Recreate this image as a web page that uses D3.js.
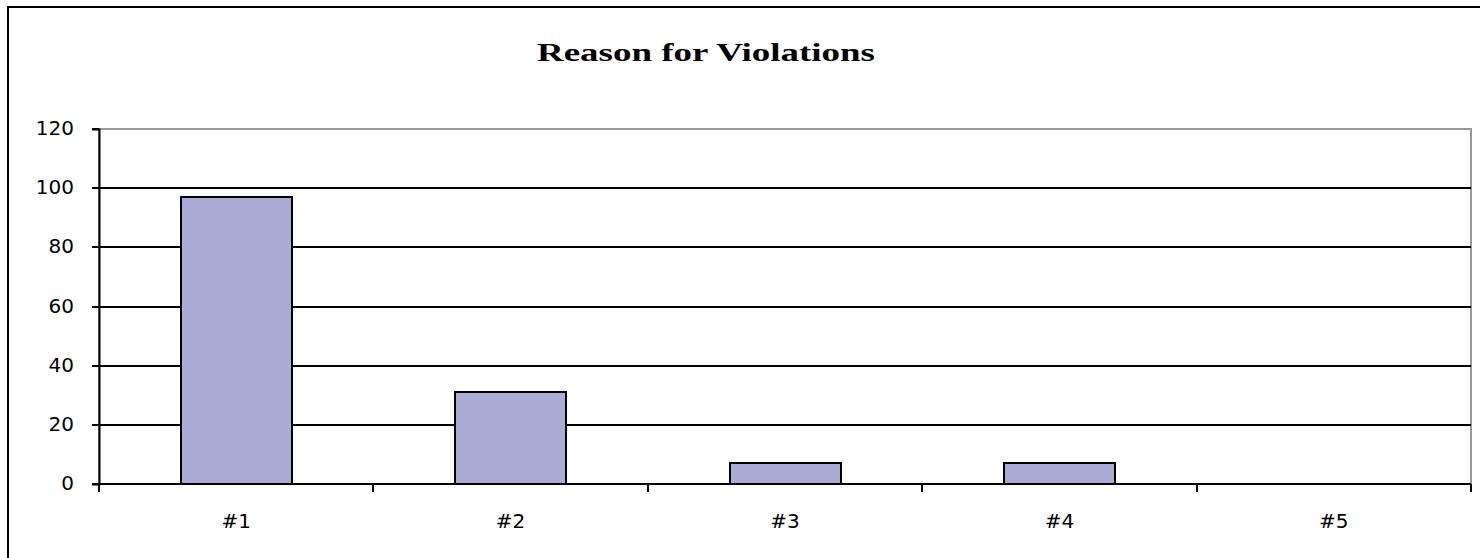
<!DOCTYPE html>
<html>
<head>
<meta charset="utf-8">
<script src="https://d3js.org/d3.v7.min.js"></script>
<style>
  body { margin: 0; background: #fff; }
  svg { display: block; }
</style>
</head>
<body>
<div id="vis"></div>
<script>
  // chart data
  var categories = ["#1", "#2", "#3", "#4", "#5"]
  var values = [97, 31, 7, 7, 0]
  var yTicks = [0, 20, 40, 60, 80, 100, 120]
  var title = "Reason for Violations"

  var W = 1480, H = 558
  // plot area
  var plotLeft = 99, plotRight = 1471, plotTop = 129, plotBottom = 484

  var svg = d3.select("#vis")
    .append("svg")
      .attr("width", W)
      .attr("height", H)

  // outer frame (runs past the right and bottom edges)
  svg.append("rect")
    .attr("x", 8).attr("y", 7)
    .attr("width", W + 20).attr("height", H + 20)
    .attr("fill", "white")
    .attr("stroke", "black")
    .attr("stroke-width", 2)

  // title is drawn wide in the original, so stretch it
  svg.append("text")
    .attr("x", 537).attr("y", 61)
    .attr("textLength", 338)
    .attr("lengthAdjust", "spacingAndGlyphs")
    .style("font-family", "'Liberation Serif', 'Times New Roman', serif")
    .style("font-weight", "bold")
    .style("font-size", "26px")
    .text(title)

  var x = d3.scaleBand()
    .domain(categories)
    .range([plotLeft, plotRight])
    .paddingInner(0.596)
    .paddingOuter(0.298)

  var y = d3.scaleLinear()
    .domain([0, 120])
    .range([plotBottom, plotTop])

  // snap to whole pixels so 2px lines stay crisp
  function py(v) { return Math.round(y(v)) }

  // plot border (gray)
  svg.append("rect")
    .attr("x", plotLeft).attr("y", plotTop)
    .attr("width", plotRight - plotLeft).attr("height", plotBottom - plotTop)
    .attr("fill", "none")
    .attr("stroke", "#999")
    .attr("stroke-width", 2)

  // gridlines
  svg.append("g")
    .selectAll("line")
    .data(yTicks.filter(function(d) { return d > 0 && d < 120 }))
    .enter()
    .append("line")
      .attr("x1", plotLeft).attr("x2", plotRight)
      .attr("y1", function(d) { return py(d) })
      .attr("y2", function(d) { return py(d) })
      .attr("stroke", "black")
      .attr("stroke-width", 2)

  // bars
  svg.append("g")
    .selectAll("rect")
    .data(values)
    .enter()
    .append("rect")
      .attr("x", function(d, i) { return Math.round(x(categories[i])) })
      .attr("y", function(d) { return py(d) })
      .attr("width", Math.round(x.bandwidth()))
      .attr("height", function(d) { return plotBottom - py(d) })
      .attr("fill", function(d) { return d > 0 ? "#aaacd6" : "none" })
      .attr("stroke", function(d) { return d > 0 ? "black" : "none" })
      .attr("stroke-width", 2)

  // y axis
  var yAxis = svg.append("g")
    .attr("transform", "translate(" + plotLeft + ",0)")
    .call(d3.axisLeft(y).tickValues(yTicks).tickSize(7).tickPadding(18))
  yAxis.select(".domain").attr("stroke", "black").attr("stroke-width", 2)
  yAxis.selectAll(".tick").attr("transform", function(d) { return "translate(0," + py(d) + ")" })
  yAxis.selectAll(".tick line").attr("stroke", "black").attr("stroke-width", 2)
  yAxis.selectAll("text")
    .style("font-family", "'DejaVu Sans', sans-serif")
    .style("font-size", "20px")
    .attr("fill", "black")

  // x axis: ticks between categories
  var xAxis = svg.append("g")
    .attr("transform", "translate(0," + plotBottom + ")")
  xAxis.append("line")
    .attr("x1", plotLeft).attr("x2", plotRight)
    .attr("stroke", "black").attr("stroke-width", 2)
  var step = (plotRight - plotLeft) / categories.length
  xAxis.selectAll("line.tk")
    .data(d3.range(categories.length + 1))
    .enter()
    .append("line")
      .attr("class", "tk")
      .attr("x1", function(i) { return Math.round(plotLeft + i * step) })
      .attr("x2", function(i) { return Math.round(plotLeft + i * step) })
      .attr("y1", 0).attr("y2", 8)
      .attr("stroke", "black").attr("stroke-width", 2)
  xAxis.selectAll("text")
    .data(categories)
    .enter()
    .append("text")
      .attr("x", function(d) { return x(d) + x.bandwidth() / 2 })
      .attr("y", 44)
      .attr("text-anchor", "middle")
      .style("font-family", "'DejaVu Sans', sans-serif")
      .style("font-size", "20px")
      .text(function(d) { return d })
</script>
</body>
</html>
